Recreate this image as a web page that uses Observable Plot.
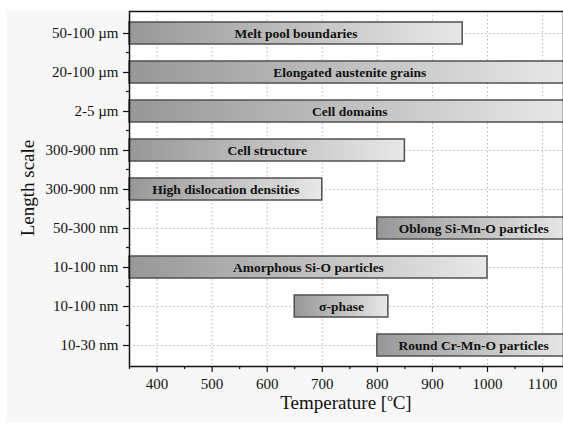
<!DOCTYPE html>
<html><head><meta charset="utf-8">
<script src="https://cdn.jsdelivr.net/npm/d3@7"></script>
<script src="https://cdn.jsdelivr.net/npm/@observablehq/plot@0.6"></script>
<style>
body{margin:0;background:#fff;font-family:"Liberation Serif","Times New Roman",Times,serif;}
#panel{position:absolute;left:7px;top:11px;width:556px;height:411px;background:#f7f7f7;}
#wrap{position:absolute;left:0;top:0;width:563px;height:425px;overflow:hidden;}
#wrap svg{max-width:none !important;}
#xlab{position:absolute;left:129px;width:434px;top:393px;line-height:1;text-align:center;font-size:19px;color:#111;}
#xlab sup{font-size:11px;position:relative;top:-1px;vertical-align:top;}
#ylab{position:absolute;left:27px;top:188px;line-height:1;transform:translate(-50%,-50%) rotate(-90deg);font-size:19px;color:#111;white-space:nowrap;}
</style></head><body>
<div id="panel"></div>
<div id="wrap"></div>
<div id="xlab">Temperature [<sup>o</sup>C]</div>
<div id="ylab">Length scale</div>
<script>
const features = ["Melt pool boundaries","Elongated austenite grains","Cell domains","Cell structure","High dislocation densities","Oblong Si-Mn-O particles","Amorphous Si-O particles","σ-phase","Round Cr-Mn-O particles"];
const lengthScales = ["50-100 µm","20-100 µm","2-5 µm","300-900 nm","300-900 nm","50-300 nm","10-100 nm","10-100 nm","10-30 nm"];
const tStart = [350,350,350,350,350,800,350,650,800];
const tEnd = [955,1150,1150,850,700,1150,1000,820,1150];
const xTicks = [400,500,600,700,800,900,1000,1100];
const xMinorTicks = [350,450,550,650,750,850,950,1050];

const data = features.map((f,i)=>({feature:f, scale:lengthScales[i], t1:tStart[i], t2:tEnd[i]}));
const scaleOf = new Map(data.map(d=>[d.feature,d.scale]));
const serif = '"Liberation Serif","Times New Roman",Times,serif';

const defs = () => {
  const d = d3.create("svg:defs");
  const g = d.append("linearGradient").attr("id","barGrad").attr("x1",0).attr("x2",1).attr("y1",0).attr("y2",0);
  g.append("stop").attr("offset","0%").attr("stop-color","#979797");
  g.append("stop").attr("offset","100%").attr("stop-color","#e8e8e8");
  return d.node();
};

const yMinor = (index, scales) => {
  const y = scales.y;
  const step = y.step(), bw = y.bandwidth();
  const g = d3.create("svg:g").attr("stroke","#111").attr("stroke-width",1.2);
  features.slice(0,-1).forEach(f=>{
    const yy = y(f) + bw + (step-bw)/2;
    g.append("line").attr("x1",126).attr("x2",129).attr("y1",yy).attr("y2",yy);
  });
  return g.node();
};

const chart = Plot.plot({
  width: 575, height: 425,
  marginLeft: 129, marginRight: 12, marginTop: 11, marginBottom: 59,
  style: {background:"transparent", fontFamily:serif, fontSize:"15px", color:"#111", maxWidth:"none"},
  x: {domain:[350,1138], label:null},
  y: {domain:features, paddingInner:0.44, paddingOuter:0.22, label:null},
  marks: [
    Plot.frame({fill:"white", stroke:null}),
    defs,
    Plot.gridX(xTicks, {stroke:"#b8b8b8", strokeOpacity:1, strokeDasharray:"1.5,2.5"}),
    Plot.gridY(features, {stroke:"#b8b8b8", strokeOpacity:1, strokeDasharray:"1.5,2.5"}),
    Plot.barX(data, {y:"feature", x1:"t1", x2:"t2", fill:"url(#barGrad)", stroke:"#505050", strokeWidth:1.5}),
    Plot.text(data, {y:"feature", x:d=>(d.t1+d.t2)/2, text:"feature", fontWeight:"bold", fontSize:13.5, fontFamily:serif, fill:"#111"}),
    Plot.axisX(xTicks, {tickSize:6, tickPadding:6, tickFormat:d=>String(d), label:null, stroke:"#111", strokeWidth:1.2, fontFamily:serif}),
    Plot.axisX(xMinorTicks, {tickSize:3, tickFormat:()=>"", label:null, stroke:"#111", strokeWidth:1.2}),
    Plot.axisY(features, {tickSize:6, tickPadding:5, tickFormat:f=>scaleOf.get(f), label:null, stroke:"#111", strokeWidth:1.2, fontFamily:serif}),
    yMinor,
    Plot.frame({stroke:"#111", strokeWidth:1.5})
  ]
});
document.getElementById("wrap").appendChild(chart);
</script>
</body></html>
